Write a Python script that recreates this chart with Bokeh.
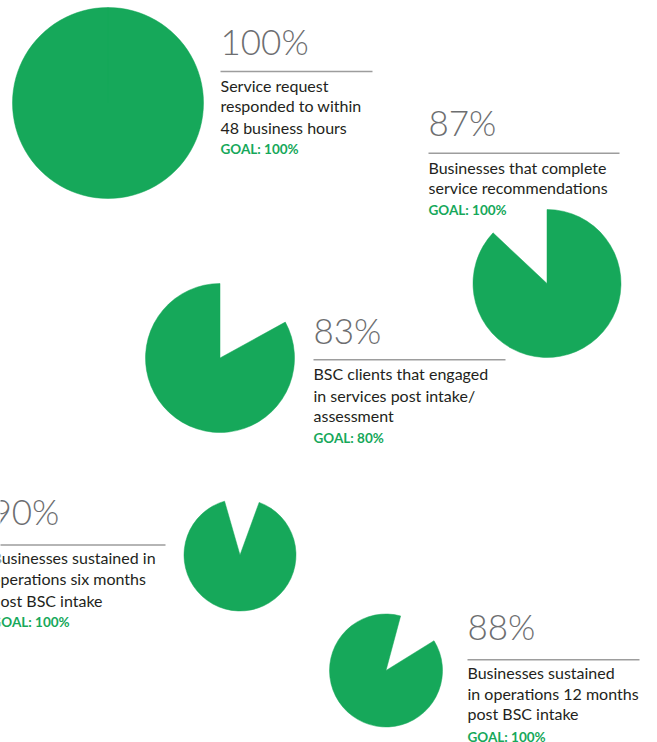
import math
from bokeh.plotting import figure
from bokeh.models import Range1d, ColumnDataSource
from bokeh.core.properties import value
from bokeh.embed import file_html
from bokeh.resources import INLINE

# ---------------- data ----------------
percent_values = [100, 87, 83, 90, 88]
percent_labels = ["100%", "87%", "83%", "90%", "88%"]
descriptions = [
    ["Service request", "responded to within", "48 business hours"],
    ["Businesses that complete", "service recommendations"],
    ["BSC clients that engaged", "in services post intake/", "assessment"],
    ["Businesses sustained in", "operations six months", "post BSC intake"],
    ["Businesses sustained", "in operations 12 months", "post BSC intake"],
]
goal_labels = ["GOAL: 100%", "GOAL: 100%", "GOAL: 80%", "GOAL: 100%", "GOAL: 100%"]

# ---------------- layout (page pixels, y measured downwards) ----------------
pie_cx = [107.5, 546.5, 219.5, 239.5, 385.5]
pie_cy = [102.5, 283.0, 357.5, 554.5, 670.0]
pie_r = [95.5, 74.0, 74.5, 56.0, 56.5]
pie_start_deg = [90, 136.8, 90, 106, 75]

txt_x = [220, 428, 313, -9, 467]
rule_x1 = [372, 619, 505, 165, 639]
pct_base = [54.5, 136.0, 344.0, 525.0, 640.0]
rule_y = [71.0, 152.7, 359.3, 544.5, 659.3]
desc_base = [[91.5, 112.0, 133.5], [173.3, 193.3], [380.0, 401.7, 421.7],
             [563.3, 585.0, 606.7], [678.3, 700.0, 720.0]]
goal_base = [154.0, 215.0, 442.7, 627.3, 741.7]

GREEN = "#16a85a"
GREY = "#6d6e70"
DARK = "#231f20"

W, H = 657, 742
PCT_FS, DESC_FS, GOAL_FS = 35, 16, 13.5
SHIFT = 0.41  # baseline correction (fraction of font size) for svg text placement


def Y(y):
    return H - y


def YT(y, fs):
    return H - (y - SHIFT * fs)


p = figure(width=W, height=H,
           x_range=Range1d(0, W), y_range=Range1d(0, H),
           output_backend="svg", toolbar_location=None, min_border=0)
p.axis.visible = False
p.grid.visible = False
p.outline_line_color = None
p.background_fill_color = "white"
p.border_fill_color = "white"

# pies
starts, ends = [], []
for v, sd in zip(percent_values, pie_start_deg):
    s = math.radians(sd)
    span = min(v / 100.0 * 2 * math.pi, 2 * math.pi - 1e-4)
    starts.append(s)
    ends.append(s + span)
pie_src = ColumnDataSource(dict(x=pie_cx, y=[Y(c) for c in pie_cy], r=pie_r,
                                s=starts, e=ends))
p.wedge(x="x", y="y", radius="r", start_angle="s", end_angle="e",
        direction="anticlock", source=pie_src, fill_color=GREEN,
        line_color=GREEN, line_width=0.5)

# big percentages
p.text(x=txt_x, y=[YT(b, PCT_FS) for b in pct_base], text=percent_labels,
       text_font=value("Lato Light"), text_font_size=f"{PCT_FS}px",
       text_color=GREY, text_baseline="alphabetic", text_align="left")

# rules
p.segment(x0=txt_x, y0=[Y(r) for r in rule_y], x1=rule_x1, y1=[Y(r) for r in rule_y],
          line_color="#9d9d9d", line_width=1.5)

# descriptions
dx, dy, dt = [], [], []
for x, lines, bases in zip(txt_x, descriptions, desc_base):
    for t, b in zip(lines, bases):
        dx.append(x)
        dy.append(YT(b, DESC_FS))
        dt.append(t)
p.text(x=dx, y=dy, text=dt, text_font=value("Lato"), text_font_size=f"{DESC_FS}px",
       text_color=DARK, text_baseline="alphabetic", text_align="left")

# goals
p.text(x=txt_x, y=[YT(b, GOAL_FS) for b in goal_base], text=goal_labels,
       text_font=value("Lato"), text_font_style="bold", text_font_size=f"{GOAL_FS}px",
       text_color=GREEN, text_baseline="alphabetic", text_align="left")

open("out.html", "w").write(file_html(p, INLINE))
